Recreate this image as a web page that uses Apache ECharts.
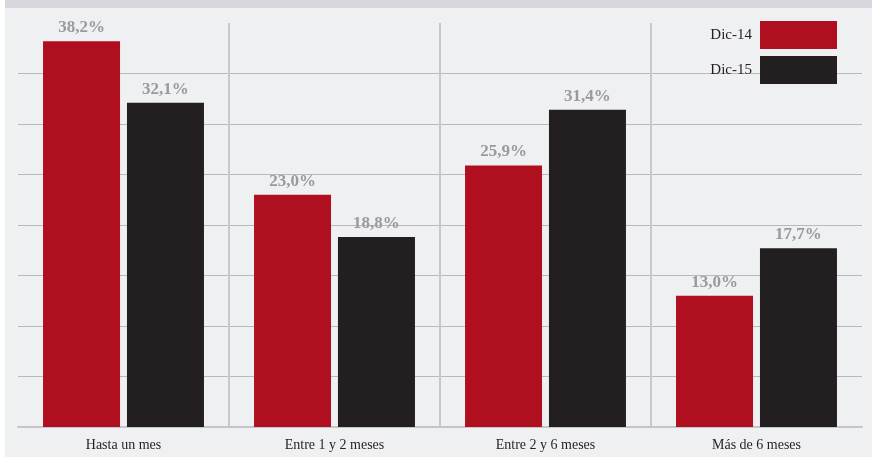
<!DOCTYPE html>
<html>
<head>
<meta charset="utf-8">
<script src="https://cdn.jsdelivr.net/npm/echarts@6/dist/echarts.min.js"></script>
<style>
html,body{margin:0;padding:0;background:#ffffff;}
#chart{width:876px;height:457px;}
</style>
</head>
<body>
<div id="chart"></div>
<script>
const categories = ['Hasta un mes', 'Entre 1 y 2 meses', 'Entre 2 y 6 meses', 'Más de 6 meses'];
const seriesNames = ['Dic-14', 'Dic-15'];
const dic14 = [38.2, 23.0, 25.9, 13.0];
const dic15 = [32.1, 18.8, 31.4, 17.7];

const chart = echarts.init(document.getElementById('chart'), null, {renderer: 'canvas'});
const fmt = p => p.value.toFixed(1).replace('.', ',') + '%';
const labelStyle = {
  show: true, position: 'top', distance: 5,
  color: '#9a9a9c', fontFamily: 'Liberation Serif', fontWeight: 'bold', fontSize: 17,
  formatter: fmt
};
chart.setOption({
  backgroundColor: '#ffffff',
  animation: false,
  graphic: [
    {type: 'rect', z: -10, silent: true, shape: {x: 5, y: 0, width: 867, height: 457}, style: {fill: '#eff0f2'}},
    {type: 'rect', z: -9, silent: true, shape: {x: 5, y: 0, width: 867, height: 8}, style: {fill: '#d7d7dd'}}
  ],
  grid: {left: 18, right: 14, top: 23, bottom: 30, containLabel: false},
  legend: {
    orient: 'vertical', right: 39, top: 21, align: 'right', padding: 0,
    itemWidth: 77, itemHeight: 28, itemGap: 7,
    icon: 'rect',
    textStyle: {fontFamily: 'Liberation Serif', fontSize: 15, color: '#231f20', padding: [0, 3, 0, 0]},
    data: seriesNames
  },
  xAxis: {
    type: 'category', data: categories,
    axisLine: {show: true, lineStyle: {color: '#c6c6ca', width: 2}},
    axisTick: {show: false},
    axisLabel: {fontFamily: 'Liberation Serif', fontSize: 14, color: '#231f20', margin: 11},
    splitLine: {show: true, showMinLine: false, showMaxLine: false, lineStyle: {color: '#c8c8cc', width: 2}}
  },
  yAxis: {
    type: 'value', min: 0, max: 40, interval: 5,
    axisLine: {show: false}, axisTick: {show: false}, axisLabel: {show: false},
    splitLine: {show: true, showMaxLine: false, lineStyle: {color: '#b9b9bd', width: 1}}
  },
  series: [
    {name: seriesNames[0], type: 'bar', data: dic14, barWidth: 77, barGap: '9%',
     itemStyle: {color: '#b00f1f'}, label: labelStyle},
    {name: seriesNames[1], type: 'bar', data: dic15, barWidth: 77, barGap: '9%',
     itemStyle: {color: '#231f20'}, label: labelStyle}
  ]
});
</script>
</body>
</html>
